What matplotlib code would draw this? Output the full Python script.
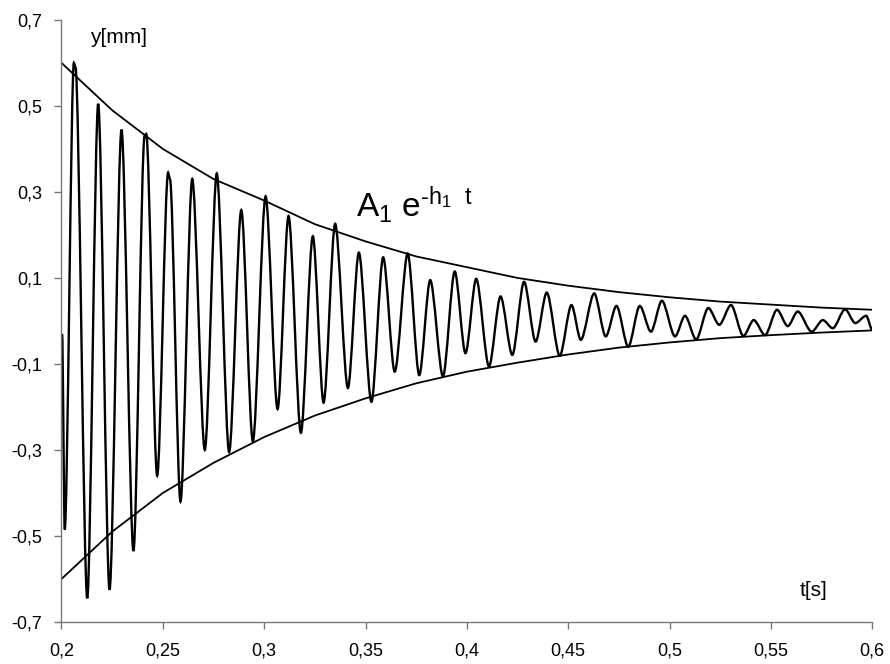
import matplotlib
matplotlib.use("Agg")
import matplotlib.pyplot as plt
from matplotlib.path import Path
from matplotlib.patches import PathPatch
from matplotlib.ticker import FuncFormatter

plt.rcParams['font.family'] = ['Liberation Sans', 'DejaVu Sans']
plt.rcParams['mathtext.fontset'] = 'custom'
plt.rcParams['mathtext.rm'] = 'Liberation Sans'
plt.rcParams['mathtext.it'] = 'Liberation Sans'

# --- data ---
# extrema of the measured oscillation (time [s], displacement [mm])
sig_t = [0.2003, 0.2016, 0.2061, 0.2069, 0.2127, 0.2181, 0.2237, 0.2296, 0.2355, 0.2410,
         0.2418, 0.2472, 0.2526, 0.2535, 0.2587, 0.2645, 0.2707, 0.2766, 0.2827, 0.2887,
         0.2944, 0.3007, 0.3066, 0.3120, 0.3181, 0.3240, 0.3293, 0.3350, 0.3413, 0.3467,
         0.3529, 0.3587, 0.3644, 0.3708, 0.3765, 0.3819, 0.3882, 0.3940, 0.3993, 0.4046,
         0.4109, 0.4166, 0.4224, 0.4282, 0.4339, 0.4394, 0.4458, 0.4516, 0.4562, 0.4628,
         0.4685, 0.4738, 0.4796, 0.4853, 0.4908, 0.4962, 0.5027, 0.5076, 0.5131, 0.5191,
         0.5245, 0.5303, 0.5364, 0.5415, 0.5471, 0.5530, 0.5583, 0.5632, 0.5701, 0.5756,
         0.5805, 0.5866, 0.5916, 0.5970, 0.6000]
sig_y = [-0.03, -0.485, 0.60, 0.59, -0.645, 0.505, -0.625, 0.445, -0.535, 0.43,
         0.435, -0.36, 0.345, 0.33, -0.42, 0.33, -0.30, 0.343, -0.305, 0.258,
         -0.28, 0.29, -0.205, 0.244, -0.26, 0.197, -0.19, 0.226, -0.156, 0.159,
         -0.188, 0.148, -0.118, 0.157, -0.126, 0.095, -0.129, 0.115, -0.075, 0.098,
         -0.106, 0.057, -0.079, 0.091, -0.048, 0.066, -0.081, 0.037, -0.044, 0.064,
         -0.036, 0.035, -0.060, 0.035, -0.025, 0.047, -0.036, 0.012, -0.043, 0.030,
         -0.009, 0.037, -0.035, 0.002, -0.033, 0.026, -0.012, 0.022, -0.025, 0.002,
         -0.017, 0.027, -0.005, 0.012, -0.021]

# envelope A1*exp(-h1*t), read at fixed times
env_t = [0.2, 0.225, 0.25, 0.275, 0.3, 0.325, 0.35, 0.375, 0.4, 0.425, 0.45,
         0.475, 0.5, 0.525, 0.55, 0.575, 0.6]
env_upper = [0.60, 0.49, 0.40, 0.33, 0.28, 0.225, 0.185, 0.15, 0.125, 0.10, 0.082,
             0.067, 0.055, 0.045, 0.038, 0.031, 0.026]
env_lower = [-0.60, -0.49, -0.40, -0.33, -0.27, -0.22, -0.18, -0.145, -0.118, -0.097,
             -0.078, -0.062, -0.05, -0.04, -0.033, -0.027, -0.022]

x_ticks = [0.2, 0.25, 0.3, 0.35, 0.4, 0.45, 0.5, 0.55, 0.6]
y_ticks = [-0.7, -0.5, -0.3, -0.1, 0.1, 0.3, 0.5, 0.7]

fig = plt.figure(figsize=(8.9, 6.64), dpi=100)
ax = fig.add_axes([0.0691, 0.0633, 0.911, 0.9067])

ax.plot(env_t, env_upper, color='black', lw=1.3)
ax.plot(env_t, env_lower, color='black', lw=1.3)

# signal: smooth curve through the extrema (flat tangent at each turning point)
verts = [(sig_t[0], sig_y[0])]
codes = [Path.MOVETO]
for i in range(1, len(sig_t)):
    t0, y0, t1, y1 = sig_t[i - 1], sig_y[i - 1], sig_t[i], sig_y[i]
    k = 0.3 * (t1 - t0)
    verts += [(t0 + k, y0), (t1 - k, y1), (t1, y1)]
    codes += [Path.CURVE4] * 3
ax.add_patch(PathPatch(Path(verts, codes), fill=False, edgecolor='black', lw=1.7))

ax.set_xlim(0.2, 0.6)
ax.set_ylim(-0.7, 0.7)
ax.set_xticks(x_ticks)
ax.set_yticks(y_ticks)

comma = FuncFormatter(lambda v, pos: f'{v:g}'.replace('.', ','))
ax.xaxis.set_major_formatter(comma)
ax.yaxis.set_major_formatter(comma)

for side in ['top', 'right']:
    ax.spines[side].set_visible(False)
for side in ['left', 'bottom']:
    ax.spines[side].set_color('#777777')
    ax.spines[side].set_linewidth(1.0)
ax.tick_params(axis='both', direction='out', length=5, width=1.0,
               color='#777777', labelsize=13)
ax.tick_params(axis='x', pad=10)
ax.tick_params(axis='y', pad=9)

ax.text(0.228, 0.66, 'y[mm]', fontsize=15, ha='center', va='center')
ax.text(0.571, -0.626, 't[s]', fontsize=15, ha='center', va='center')
ax.text(0.3455, 0.24, '$\\mathregular{A_1\\ e^{\u2010h_1\\ \\ t}}$', fontsize=24,
        ha='left', va='baseline')

fig.savefig('out.png', dpi=100)
